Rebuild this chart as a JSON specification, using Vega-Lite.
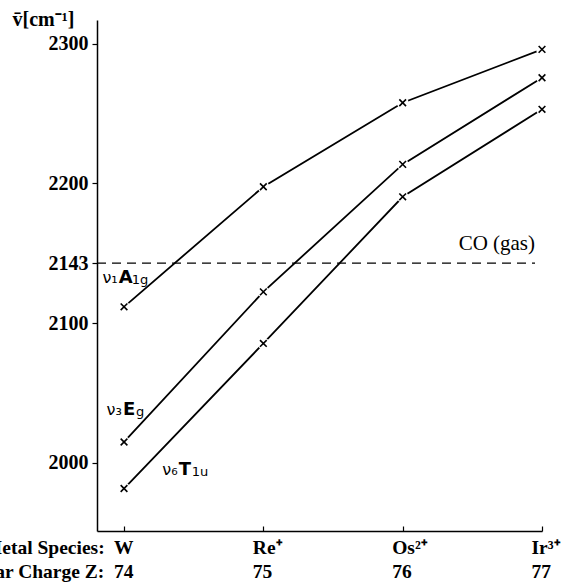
{
  "$schema": "https://vega.github.io/schema/vega-lite/v6.json",
  "width": 445,
  "height": 511,
  "autosize": {"type": "none"},
  "padding": {"left": 97, "top": 20, "right": 22, "bottom": 54},
  "background": "white",
  "config": {"view": {"stroke": null}},
  "datasets": {
    "series": [
      {"series": "v1", "Z": 74, "wn": 2111.7},
      {"series": "v1", "Z": 75, "wn": 2197.6},
      {"series": "v1", "Z": 76, "wn": 2257.7},
      {"series": "v1", "Z": 77, "wn": 2295.9},
      {"series": "v3", "Z": 74, "wn": 2015.0},
      {"series": "v3", "Z": 75, "wn": 2122.4},
      {"series": "v3", "Z": 76, "wn": 2213.6},
      {"series": "v3", "Z": 77, "wn": 2275.6},
      {"series": "v6", "Z": 74, "wn": 1981.7},
      {"series": "v6", "Z": 75, "wn": 2085.5},
      {"series": "v6", "Z": 76, "wn": 2190.4},
      {"series": "v6", "Z": 77, "wn": 2253.0}
    ],
    "labels": [
      {"pre": "ν₁", "main": "A", "post": "1g", "Z": 73.955, "wn": 2128.6},
      {"pre": "ν₃", "main": "E", "post": "g", "Z": 73.985, "wn": 2034.1},
      {"pre": "ν₆", "main": "T", "post": "1u", "Z": 74.385, "wn": 1991.2}
    ]
  },
  "encoding": {
    "x": {
      "field": "Z",
      "type": "quantitative",
      "scale": {"domain": [73.806, 77], "nice": false, "zero": false},
      "axis": {
        "values": [74, 75, 76, 77],
        "title": null,
        "grid": false,
        "domainColor": "black",
        "domainWidth": 1.5,
        "tickColor": "black",
        "tickWidth": 1.2,
        "tickSize": -5,
        "labelColor": "black",
        "labelFont": "Liberation Serif",
        "labelFontWeight": "bold",
        "labelFontSize": 19.5,
        "labelBaseline": "top",
        "labelLineHeight": 24,
        "labelPadding": 12,
        "labelLimit": 1000,
        "labelFlush": false,
        "labelOverlap": false,
        "labelBound": false,
        "labelAlign": {"condition": {"test": "datum.value == 74", "value": "right"}, "value": "left"},
        "labelOffset": {"condition": {"test": "datum.value == 74", "value": 9}, "value": -11},
        "labelExpr": "datum.value == 74 ? ['Metal Species:\u00a0 W', 'Nuclear Charge Z:\u00a0 74'] : datum.value == 75 ? ['Re⁺', '75'] : datum.value == 76 ? ['Os²⁺', '76'] : ['Ir³⁺', '77']"
      }
    },
    "y": {
      "field": "wn",
      "type": "quantitative",
      "scale": {"domain": [1951.3, 2316.9], "nice": false, "zero": false},
      "axis": {
        "values": [2000, 2100, 2143, 2200, 2300],
        "format": "d",
        "grid": false,
        "domainColor": "black",
        "domainWidth": 1.5,
        "tickColor": "black",
        "tickWidth": 1.2,
        "tickSize": 5,
        "labelColor": "black",
        "labelFont": "Liberation Serif",
        "labelFontWeight": "bold",
        "labelFontSize": 20,
        "labelPadding": 4,
        "title": "v̄[cm⁻¹]",
        "titleAngle": 0,
        "titleAlign": "left",
        "titleBaseline": "alphabetic",
        "titleX": -85,
        "titleY": 5,
        "titleColor": "black",
        "titleFont": "Liberation Serif",
        "titleFontWeight": "bold",
        "titleFontSize": 20
      }
    }
  },
  "layer": [
    {
      "data": {"values": [{"Z": 73.806, "Z2": 76.95, "wn": 2143}]},
      "mark": {"type": "rule", "stroke": "black", "strokeWidth": 1.3, "strokeDash": [9, 6]},
      "encoding": {"x2": {"field": "Z2"}}
    },
    {
      "data": {"name": "series"},
      "mark": {"type": "line", "stroke": "black", "strokeWidth": 1.8},
      "encoding": {"detail": {"field": "series"}}
    },
    {
      "data": {"name": "series"},
      "mark": {"type": "point", "shape": "circle", "filled": true, "fill": "white", "strokeWidth": 0, "size": 140, "opacity": 1}
    },
    {
      "data": {"name": "series"},
      "mark": {"type": "point", "shape": "M-1,-1L1,1M-1,1L1,-1", "filled": false, "stroke": "black", "strokeWidth": 1.6, "size": 45, "opacity": 1}
    },
    {
      "data": {"values": [{"Z": 76.95, "wn": 2152.3, "txt": "CO (gas)"}]},
      "mark": {"type": "text", "align": "right", "baseline": "alphabetic", "font": "Liberation Serif", "fontSize": 21, "color": "black"},
      "encoding": {"text": {"field": "txt"}}
    },
    {
      "data": {"name": "labels"},
      "mark": {"type": "text", "align": "right", "baseline": "alphabetic", "font": "DejaVu Sans", "fontSize": 16, "color": "black"},
      "encoding": {"text": {"field": "pre"}}
    },
    {
      "data": {"name": "labels"},
      "mark": {"type": "text", "align": "left", "baseline": "alphabetic", "dx": 1, "font": "DejaVu Sans", "fontWeight": "bold", "fontSize": 18, "color": "black"},
      "encoding": {"text": {"field": "main"}}
    },
    {
      "data": {"name": "labels"},
      "mark": {"type": "text", "align": "left", "baseline": "alphabetic", "font": "DejaVu Sans", "fontSize": 13, "dx": 14, "dy": 1, "color": "black"},
      "encoding": {"text": {"field": "post"}}
    }
  ]
}
